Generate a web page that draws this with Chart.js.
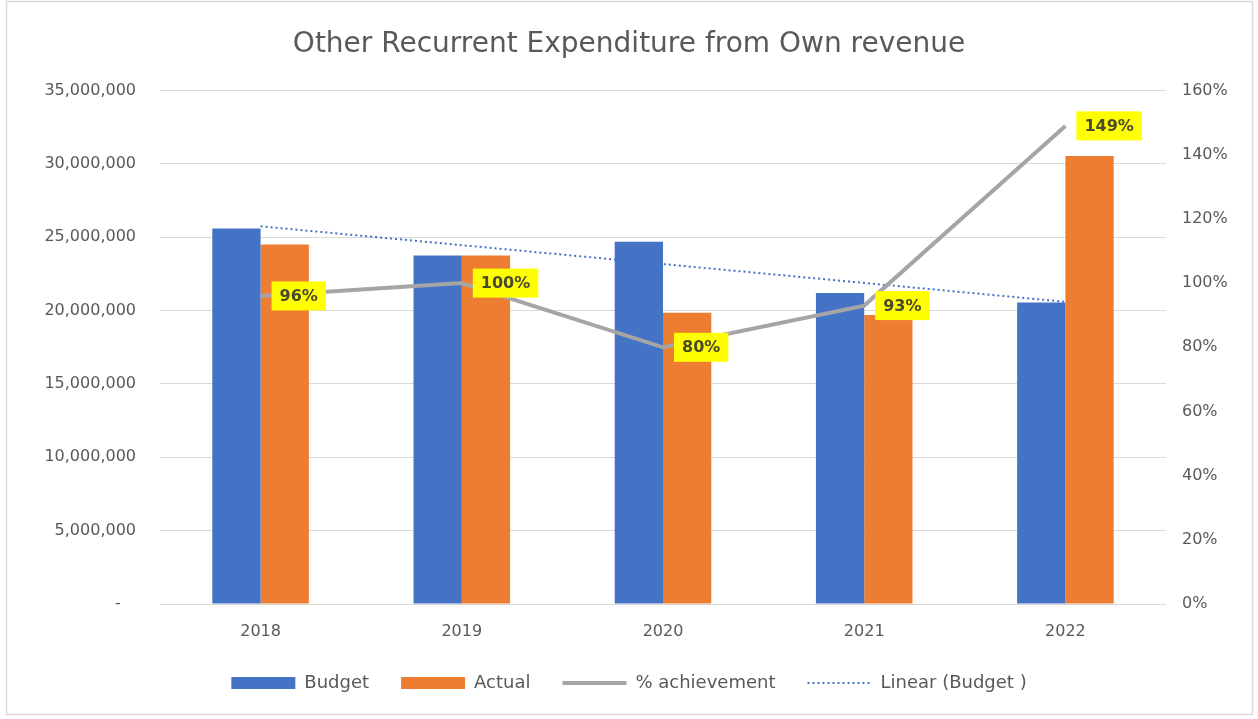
<!DOCTYPE html>
<html>
<head>
<meta charset="utf-8">
<script src="https://cdn.jsdelivr.net/npm/chart.js@4.4.1/dist/chart.umd.min.js"></script>
<style>
  html, body { margin: 0; padding: 0; background: #fff; }
  #wrap { position: relative; width: 1258px; height: 719px; }
</style>
</head>
<body>
<div id="wrap"><canvas id="myChart" width="1258" height="719"></canvas></div>
<script>
// values
const years = ['2018', '2019', '2020', '2021', '2022'];
const budget = [25600000, 23750000, 24700000, 21200000, 20550000];
const actual = [24500000, 23750000, 19850000, 19700000, 30550000];
const achievement = [0.96, 1.00, 0.80, 0.93, 1.49];
// trendline ends as seen in the picture (middle left open)
const trendBudget = [25750000, null, null, null, 20600000];

const fontFam = "'DejaVu Sans', sans-serif";
const grey = '#595959';

// yellow data labels next to the % points
const yellowLabels = {
  id: 'yellowLabels',
  afterDatasetsDraw(chart) {
    const meta = chart.getDatasetMeta(2);
    const ctx = chart.ctx;
    ctx.save();
    ctx.font = 'bold 16px ' + fontFam;
    ctx.textBaseline = 'middle';
    meta.data.forEach((pt, i) => {
      const txt = Math.round(achievement[i] * 100) + '%';
      const w = ctx.measureText(txt).width + 16;
      const h = 29;
      const x = pt.x + 11;
      ctx.fillStyle = '#FFFF00';
      ctx.fillRect(x, pt.y - h / 2, w, h);
      ctx.fillStyle = '#4a4a2a';
      ctx.fillText(txt, x + 8, pt.y + 1);
    });
    ctx.restore();
  }
};

const frame = {
  id: 'frame',
  beforeDraw(chart) {
    const ctx = chart.ctx;
    ctx.save();
    ctx.fillStyle = '#fff';
    ctx.fillRect(0, 0, chart.width, chart.height);
    ctx.strokeStyle = '#D9D9D9';
    ctx.lineWidth = 1.5;
    ctx.strokeRect(6.5, 1.5, 1246, 713);
    ctx.restore();
  }
};

var ctx = document.getElementById('myChart');
var myChart = new Chart(ctx, {
  type: 'bar',
  data: {
    labels: years,
    datasets: [
      {
        label: 'Budget',
        data: budget,
        backgroundColor: '#4472C4',
        yAxisID: 'y',
        order: 3,
        categoryPercentage: 0.48,
        barPercentage: 1
      },
      {
        label: 'Actual',
        data: actual,
        backgroundColor: '#ED7D31',
        yAxisID: 'y',
        order: 3,
        categoryPercentage: 0.48,
        barPercentage: 1
      },
      {
        type: 'line',
        label: '% achievement',
        data: achievement,
        borderColor: '#A5A5A5',
        backgroundColor: '#A5A5A5',
        borderWidth: 4,
        pointRadius: 0,
        tension: 0,
        yAxisID: 'y1',
        order: 1
      },
      {
        type: 'line',
        label: 'Linear (Budget )',
        data: trendBudget,
        borderColor: '#4472C4',
        backgroundColor: '#4472C4',
        borderWidth: 2,
        borderDash: [2, 3],
        pointRadius: 0,
        spanGaps: true,
        yAxisID: 'y',
        order: 2
      }
    ]
  },
  options: {
    responsive: false,
    animation: false,
    layout: { padding: { top: 6, left: 0, right: 0, bottom: 17 } },
    plugins: {
      title: {
        display: true,
        text: 'Other Recurrent Expenditure from Own revenue',
        color: grey,
        font: { family: fontFam, size: 28, weight: 'normal' },
        padding: { top: 22, bottom: 29 }
      },
      legend: {
        position: 'bottom',
        labels: {
          color: grey,
          font: { family: fontFam, size: 18 },
          usePointStyle: true,
          pointStyleWidth: 64,
          boxHeight: 12,
          padding: 32,
          generateLabels(chart) {
            return chart.data.datasets.map((ds, i) => ({
              text: ds.label,
              datasetIndex: i,
              fillStyle: ds.backgroundColor,
              strokeStyle: ds.borderColor || ds.backgroundColor,
              lineWidth: i === 2 ? 4 : (i === 3 ? 2 : 0),
              lineDash: i === 3 ? [2, 3] : [],
              pointStyle: i < 2 ? 'rect' : 'line',
              fontColor: grey
            }));
          }
        }
      },
      tooltip: { enabled: false }
    },
    scales: {
      x: {
        grid: { display: false, drawTicks: false },
        border: { display: false },
        ticks: { color: grey, font: { family: fontFam, size: 16 }, padding: 18 },
        afterFit(scale) { scale.height = 38; }
      },
      y: {
        position: 'left',
        min: 0,
        max: 35000000,
        ticks: {
          stepSize: 5000000,
          color: grey,
          font: { family: fontFam, size: 16 },
          padding: 24,
          callback: v => v === 0 ? '-   ' : v.toLocaleString('en-US')
        },
        grid: { color: '#D9D9D9', lineWidth: 1, drawTicks: false },
        border: { display: false },
        afterFit(scale) { scale.width = 160; }
      },
      y1: {
        position: 'right',
        min: 0,
        max: 1.6,
        ticks: {
          stepSize: 0.2,
          color: grey,
          font: { family: fontFam, size: 16 },
          padding: 16,
          callback: v => Math.round(v * 100) + '%'
        },
        grid: { display: false, drawTicks: false },
        border: { display: false },
        afterFit(scale) { scale.width = 92; }
      }
    }
  },
  plugins: [frame, yellowLabels]
});
</script>
</body>
</html>
